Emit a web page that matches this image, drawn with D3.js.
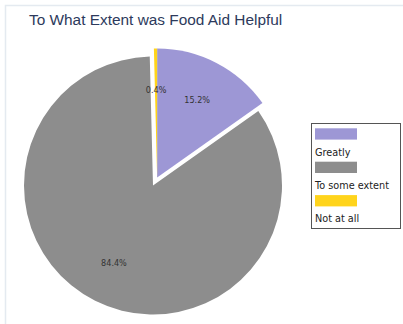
<!DOCTYPE html>
<html>
<head>
<meta charset="utf-8">
<script src="https://cdn.jsdelivr.net/npm/d3@7"></script>
<style>
  html, body { margin: 0; padding: 0; background: #ffffff; }
  svg { display: block; }
</style>
</head>
<body>
<svg id="chart" width="403" height="324"></svg>
<script>
// Survey answers: how helpful the food aid was
const categories = ["Greatly", "To some extent", "Not at all"];
const shares = [15.2, 84.4, 0.4];
const sliceColors = ["#9d97d5", "#8d8d8d", "#ffd41c"];
const chartTitle = "To What Extent was Food Aid Helpful";

const svg = d3.select("#chart");
const W = 403, H = 324;

// light frame around the chart area
svg.append("path")
  .attr("d", `M5.5,${H + 2} V5.5 H${W + 2}`)
  .attr("fill", "none")
  .attr("stroke", "#e4eaf0")
  .attr("stroke-width", 1.5);

svg.append("text")
  .attr("x", 29)
  .attr("y", 25)
  .attr("font-family", "'Liberation Sans', Arial, sans-serif")
  .attr("font-size", 15.4)
  .attr("fill", "#2d3a5c")
  .text(chartTitle);

const cx = 153, cy = 185.5, radius = 129;
const pullOut = 9; // detached wedges are pulled away from the main wedge

const data = categories.map((c, i) => ({ cat: c, value: shares[i], color: sliceColors[i] }));

const pie = d3.pie().value(d => d.value).sort(null);
const arcs = pie(data);
const arc = d3.arc().innerRadius(0).outerRadius(radius);

// offset of the pulled-out group (taken along the bisector of the first wedge)
const first = arcs[0];
const firstMid = (first.startAngle + first.endAngle) / 2;
const groupShift = [pullOut * Math.sin(firstMid), -pullOut * Math.cos(firstMid)];

function shiftOf(a) {
  return a.data.cat === "To some extent" ? [0, 0] : groupShift;
}

const g = svg.append("g").attr("transform", `translate(${cx},${cy})`);

g.selectAll("path.slice")
  .data(arcs)
  .join("path")
  .attr("class", "slice")
  .attr("transform", d => `translate(${shiftOf(d)[0]},${shiftOf(d)[1]})`)
  .attr("d", arc)
  .attr("fill", d => d.data.color);

// percentage labels inside the wedges
const labelArc = d3.arc().innerRadius(radius * 0.675).outerRadius(radius * 0.675);
g.selectAll("text.pct")
  .data(arcs)
  .join("text")
  .attr("class", "pct")
  .attr("transform", d => {
    const [x, y] = labelArc.centroid(d);
    const s = shiftOf(d);
    return `translate(${x + s[0]},${y + s[1]})`;
  })
  .attr("text-anchor", "middle")
  .attr("dy", "0.35em")
  .attr("font-family", "'DejaVu Sans', sans-serif")
  .attr("font-size", 8.1)
  .attr("fill", "#333333")
  .text(d => d.data.value.toFixed(1) + "%");

// legend
const legend = svg.append("g").attr("transform", "translate(311,123)");
legend.append("rect")
  .attr("x", 0.5).attr("y", 0.5)
  .attr("width", 89).attr("height", 105)
  .attr("fill", "#ffffff")
  .attr("stroke", "#555555")
  .attr("stroke-width", 1);

const rowStep = 33.4;
const item = legend.selectAll("g.item")
  .data(data)
  .join("g")
  .attr("class", "item")
  .attr("transform", (d, i) => `translate(4,${5.3 + i * rowStep})`);

item.append("rect")
  .attr("width", 42)
  .attr("height", 11.3)
  .attr("fill", d => d.color);

item.append("text")
  .attr("x", 0)
  .attr("y", 27.4)
  .attr("font-family", "'DejaVu Sans', sans-serif")
  .attr("font-size", 9.7)
  .attr("fill", "#222222")
  .text(d => d.cat);
</script>
</body>
</html>
